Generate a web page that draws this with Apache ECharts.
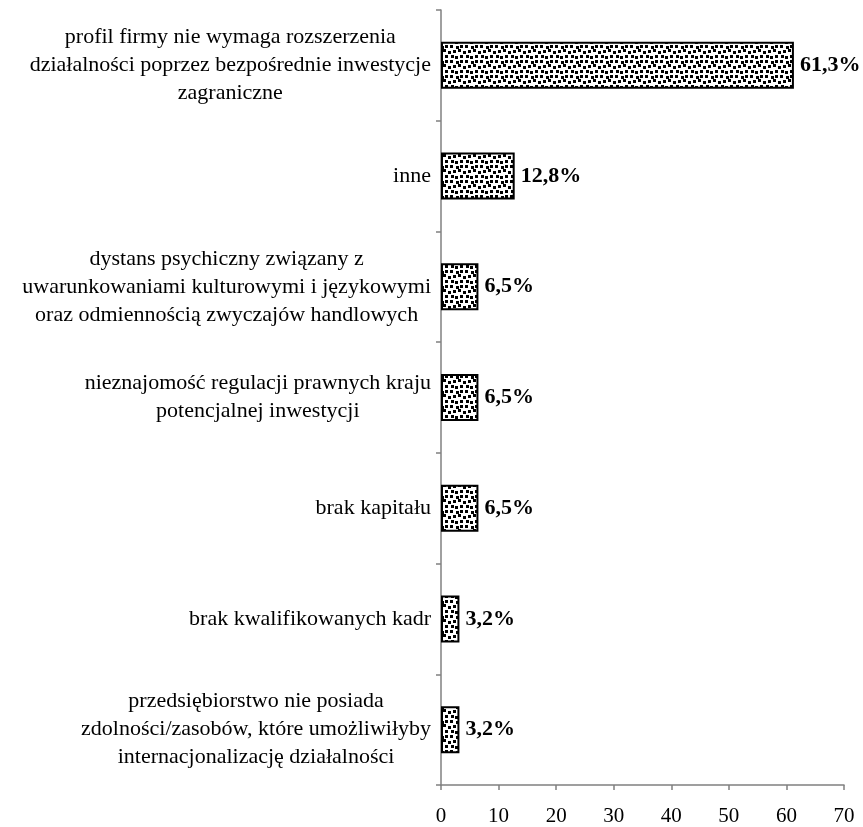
<!DOCTYPE html>
<html>
<head>
<meta charset="utf-8">
<script src="https://cdn.jsdelivr.net/npm/echarts@6/dist/echarts.min.js"></script>
<style>html,body{margin:0;padding:0;background:#fff}#c{width:863px;height:827px}</style>
</head>
<body>
<div id="c"></div>
<script>
const categories = [
  "profil firmy nie wymaga rozszerzenia\ndziałalności poprzez bezpośrednie inwestycje\nzagraniczne",
  "inne",
  "dystans psychiczny związany z\nuwarunkowaniami kulturowymi i językowymi\noraz odmiennością zwyczajów handlowych",
  "nieznajomość regulacji prawnych kraju\npotencjalnej inwestycji",
  "brak kapitału",
  "brak kwalifikowanych kadr",
  "przedsiębiorstwo nie posiada\nzdolności/zasobów, które umożliwiłyby\ninternacjonalizację działalności"
];
const values = [61.3, 12.8, 6.5, 6.5, 6.5, 3.2, 3.2];
const xTicks = [0, 10, 20, 30, 40, 50, 60, 70];

// dotted pattern tile
const tile = document.createElement('canvas');
tile.width = 15; tile.height = 15;
const tc = tile.getContext('2d');
tc.fillStyle = '#fff'; tc.fillRect(0, 0, 15, 15);
tc.fillStyle = '#000';
[[0,0],[6,1],[10,0],[3,5],[8,4],[13,6],[1,10],[5,11],[10,10]]
  .forEach(p => {
    for (let dx = -15; dx <= 0; dx += 15) for (let dy = -15; dy <= 0; dy += 15)
      tc.fillRect(p[0] + dx + 15 * (p[0] > 12 ? 1 : 0) - 15 * (p[0] > 12 ? 1 : 0), p[1] + dy, 3, 3);
    tc.fillRect(p[0], p[1], 3, 3);
    if (p[0] > 12) tc.fillRect(p[0] - 15, p[1], 3, 3);
    if (p[1] > 12) tc.fillRect(p[0], p[1] - 15, 3, 3);
  });

const chart = echarts.init(document.getElementById('c'));
chart.setOption({
  backgroundColor: '#fff',
  animation: false,
  grid: { left: 441, right: 19, top: 10, bottom: 41, containLabel: false },
  xAxis: {
    type: 'value', min: xTicks[0], max: xTicks[xTicks.length - 1], interval: 10,
    splitLine: { show: false },
    axisLine: { show: true, lineStyle: { color: '#808080', width: 1.5 } },
    axisTick: { show: true, length: 5, lineStyle: { color: '#808080', width: 1.5 } },
    axisLabel: { color: '#000', fontFamily: 'Liberation Serif', fontSize: 21, margin: 21 }
  },
  yAxis: {
    type: 'category', data: categories, inverse: true,
    axisLine: { show: true, lineStyle: { color: '#808080', width: 1.5 } },
    axisTick: { show: true, length: 5, lineStyle: { color: '#808080', width: 1.5 } },
    axisLabel: {
      margin: 10, align: 'right', color: '#000',
      formatter: v => v.split('\n').map(l => '{c|' + l + '}').join('\n'),
      rich: { c: { align: 'center', fontFamily: 'Liberation Serif', fontSize: 22, lineHeight: 28, color: '#000' } }
    }
  },
  series: [{
    type: 'bar', data: values, barWidth: 47,
    itemStyle: { color: { image: tile, repeat: 'repeat' }, borderColor: '#000', borderWidth: 2 },
    label: {
      show: true, position: 'right', distance: 6, color: '#000',
      fontFamily: 'Liberation Serif', fontWeight: 'bold', fontSize: 22,
      formatter: p => p.value.toFixed(1).replace('.', ',') + '%'
    }
  }]
});
</script>
</body>
</html>
